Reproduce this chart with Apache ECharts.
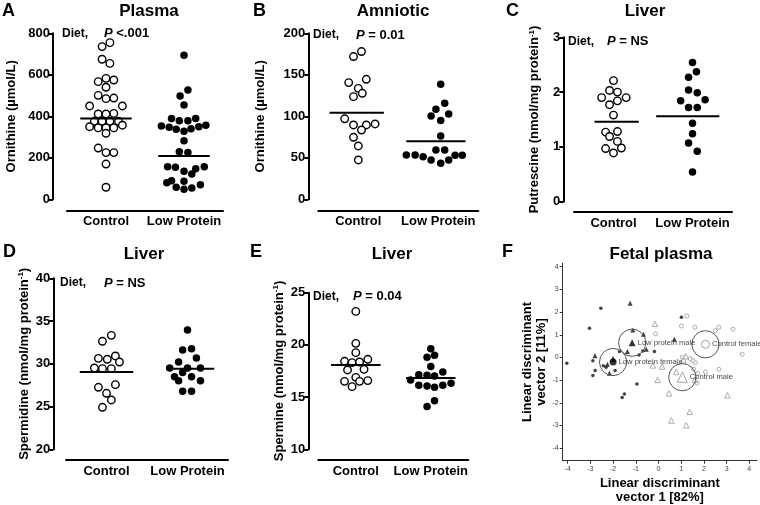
<!DOCTYPE html>
<html><head><meta charset="utf-8">
<script src="https://cdn.jsdelivr.net/npm/echarts@6/dist/echarts.min.js"></script>
<style>html,body{margin:0;padding:0;background:#fff}#c{width:760px;height:505px}</style>
</head><body><div id="c"></div>
<script>
// ---------- data ----------
const groups = ['Control', 'Low Protein'];

// A  Plasma ornithine (µmol/L)
const plasmaControl = [755, 736, 675, 655, 583, 567, 575, 540, 501, 485, 488, 450, 450, 411, 411, 414, 376, 376, 376, 376, 350, 344, 344, 344, 357, 318, 247, 225, 225, 170, 58];
const plasmaControlJitter = [0.05, -0.05, -0.05, 0.05, 0, -0.10, 0.10, 0, -0.10, 0, 0.10, -0.21, 0.21, -0.10, 0, 0.10, -0.15, -0.05, 0.05, 0.16, -0.21, -0.10, 0, 0.10, 0.21, 0, -0.10, 0, 0.10, 0, 0];
const plasmaLow = [694, 527, 498, 454, 390, 379, 379, 390, 353, 347, 337, 328, 340, 350, 357, 282, 229, 225, 157, 154, 135, 122, 147, 157, 80, 90, 58, 87, 48, 54, 70];
const plasmaLowJitter = [0, 0.05, -0.05, 0, -0.16, -0.06, 0.05, 0.15, -0.29, -0.19, -0.10, 0, 0.09, 0.19, 0.28, 0, -0.06, 0.05, -0.21, -0.11, 0, 0.10, 0.15, 0.26, -0.22, -0.16, -0.10, 0, 0, 0.10, 0.21];
const plasmaMeans = [390, 209];

// B  Amniotic ornithine (µmol/L)
const amnioticControl = [178, 172, 140.6, 144.6, 133.7, 127.7, 123.7, 97, 89.6, 89.6, 90.8, 83.5, 74.7, 64.3, 47.4];
const amnioticControlJitter = [0.04, -0.06, -0.12, 0.10, 0, 0.05, -0.06, -0.17, -0.06, 0.10, 0.21, 0.04, -0.06, 0, 0];
const amnioticLow = [138.6, 115.7, 108.4, 100.4, 102.8, 94.8, 76.3, 53.4, 53.4, 51.4, 47.4, 59.4, 59.4, 43.4, 47.4, 53, 53];
const amnioticLowJitter = [0.03, 0.08, -0.03, -0.09, 0.13, 0.03, 0.03, -0.40, -0.29, -0.19, -0.09, -0.03, 0.08, 0.03, 0.13, 0.21, 0.30];
const amnioticMeans = [104.4, 69.9];

// C  Liver putrescine
const putrescineControl = [2.21, 2.03, 2.00, 1.90, 1.90, 1.84, 1.77, 1.58, 1.27, 1.28, 1.19, 1.10, 0.97, 0.98, 0.89];
const putrescineControlJitter = [0, -0.05, 0.05, -0.15, 0.16, 0.05, -0.05, 0, -0.10, 0.05, -0.05, 0.05, -0.10, 0.10, 0];
const putrescineLow = [2.54, 2.37, 2.27, 2.04, 1.99, 1.84, 1.86, 1.72, 1.72, 1.43, 1.24, 1.07, 0.92, 0.54];
const putrescineLowJitter = [0, 0.05, -0.05, -0.05, 0.06, -0.15, 0.16, -0.05, 0.06, 0, 0, -0.05, 0.06, 0];
const putrescineMeans = [1.46, 1.56];

// D  Liver spermidine
const spermidineControl = [33.33, 32.63, 30.64, 30.53, 30.92, 30.21, 29.51, 29.43, 29.43, 27.25, 27.56, 26.55, 25.77, 24.91];
const spermidineControlJitter = [0.06, -0.05, -0.10, 0.01, 0.11, 0.16, -0.15, -0.05, 0.06, -0.10, 0.11, 0, 0.06, -0.05];
const spermidineLow = [33.96, 31.62, 31.77, 30.21, 30.68, 29.51, 29.51, 29.51, 28.97, 28.50, 28.50, 28.03, 28.03, 26.78, 26.78];
const spermidineLowJitter = [0, -0.06, 0.05, -0.11, 0.11, -0.22, 0, 0.16, -0.06, -0.16, 0.05, -0.11, 0.16, -0.06, 0.05];
const spermidineMeans = [29.04, 29.43];

// E  Liver spermine
const spermineControl = [23.21, 20.15, 19.26, 18.43, 18.30, 18.36, 18.62, 17.60, 17.66, 16.89, 16.51, 16.51, 16.58, 16.0];
const spermineControlJitter = [0, 0, 0, -0.15, -0.05, 0.05, 0.16, -0.11, 0.11, 0, -0.15, 0.05, 0.16, -0.05];
const spermineLow = [19.64, 18.81, 19.0, 17.92, 17.15, 17.09, 17.02, 17.40, 16.64, 16.13, 16.06, 15.94, 16.13, 16.32, 14.66, 14.09];
const spermineLowJitter = [0, -0.05, 0.05, 0, -0.16, -0.05, 0.05, 0.16, -0.27, -0.16, -0.05, 0.05, 0.16, 0.27, 0.05, -0.05];
const spermineMeans = [18.07, 16.83];

// F  Fetal plasma linear discriminant scores [vector 1, vector 2]
const lowProteinFemale = [[-4.04, -0.26], [-3.04, 1.29], [-2.54, 2.17], [-2.89, -0.14], [-2.79, -0.58], [-2.89, -0.80], [-2.43, -0.37], [-2.31, -0.43], [-1.91, -0.58], [-1.72, 0.26], [-0.95, -1.17], [-1.50, -1.61], [-1.60, -1.77], [-0.86, 0.11], [-0.69, 0.29], [-0.18, 0.26], [1.01, 1.77]];
const lowProteinMale = [[-1.25, 2.39], [-1.13, 1.21], [-0.66, 1.02], [-1.37, 0.26], [-2.80, 0.07], [-2.16, -0.70], [-0.54, 0.36], [0.70, 0.80], [-2.25, -0.30]];
const controlFemale = [[1.25, 1.83], [1.01, 1.39], [1.60, 1.33], [2.66, 1.33], [2.51, 1.18], [3.28, 1.24], [-0.13, 1.04], [3.69, 0.14], [1.05, 0.01], [1.52, -0.14], [1.63, -0.23], [1.55, -0.52], [1.73, -0.70], [2.07, -0.64], [2.66, -0.52], [1.70, -1.13], [1.40, -0.05]];
const controlMale = [[-0.16, 1.48], [1.10, -0.11], [0.16, -0.40], [0.78, -0.64], [-0.04, -0.99], [1.60, -0.99], [0.46, -1.58], [3.04, -1.67], [1.37, -2.40], [0.57, -2.78], [1.22, -2.99], [-0.25, -0.35], [1.20, 0.05]];
const centroidNames = ['Low protein male', 'Low protein female', 'Control female', 'Control male'];
const centroids = [[-1.16, 0.65], [-2.00, -0.20], [2.07, 0.58], [1.05, -0.87]];

// ---------- layout / style ----------
const FONT = '"Liberation Sans", Arial, Helvetica, sans-serif';
const CIRCLE_R = 0.6;
const sup = {fontSize: 8, fontWeight: 'bold', fontFamily: FONT, color: '#000', verticalAlign: 'top', lineHeight: 10};
const nrm = {fontSize: 13, fontWeight: 'bold', fontFamily: FONT, color: '#000', lineHeight: 15};

const panels = [
  {grid: {left: 67, top: 33.3, width: 156, height: 166}, yOff: 14, xOff: 11, min: 0, max: 800, interval: 200,
   name: 'Ornithine (µmol/L)', gap: 34,
   ctrl: plasmaControl, ctrlJ: plasmaControlJitter, low: plasmaLow, lowJ: plasmaLowJitter, means: plasmaMeans,
   span: [[-0.33, 0.33], [-0.33, 0.33]]},
  {grid: {left: 318.3, top: 33.3, width: 160, height: 166}, yOff: 10, xOff: 11, min: 0, max: 200, interval: 50,
   name: 'Ornithine (µmol/L)', gap: 40,
   ctrl: amnioticControl, ctrlJ: amnioticControlJitter, low: amnioticLow, lowJ: amnioticLowJitter, means: amnioticMeans,
   span: [[-0.36, 0.32], [-0.40, 0.34]]},
  {grid: {left: 574, top: 37.3, width: 158, height: 164.4}, yOff: 10.7, xOff: 10, min: 0, max: 3, interval: 1,
   name: '{n|Putrescine (nmol/mg protein}{s|-1}{n|)}', gap: 21,
   ctrl: putrescineControl, ctrlJ: putrescineControlJitter, low: putrescineLow, lowJ: putrescineLowJitter, means: putrescineMeans,
   span: [[-0.24, 0.32], [-0.46, 0.34]]},
  {grid: {left: 66, top: 278.3, width: 162, height: 171}, yOff: 12.7, xOff: 10.7, min: 20, max: 40, interval: 5,
   name: '{n|Spermidine (nmol/mg protein}{s|-1}{n|)}', gap: 20,
   ctrl: spermidineControl, ctrlJ: spermidineControlJitter, low: spermidineLow, lowJ: spermidineLowJitter, means: spermidineMeans,
   span: [[-0.33, 0.33], [-0.24, 0.33]]},
  {grid: {left: 318.3, top: 292.7, width: 150, height: 156.6}, yOff: 10, xOff: 10.7, min: 10, max: 25, interval: 5,
   name: '{n|Spermine (nmol/mg protein}{s|-1}{n|)}', gap: 20,
   ctrl: spermineControl, ctrlJ: spermineControlJitter, low: spermineLow, lowJ: spermineLowJitter, means: spermineMeans,
   span: [[-0.33, 0.33], [-0.33, 0.33]]}
];

const grids = [], xAxes = [], yAxes = [], series = [];
const black = '#000';

panels.forEach((p, i) => {
  grids.push(Object.assign({outerBoundsMode: 'none', containLabel: false}, p.grid));
  xAxes.push({type: 'category', gridIndex: i, data: groups, position: 'bottom', offset: p.xOff,
    axisLine: {onZero: false, lineStyle: {color: black, width: 2}},
    axisTick: {alignWithLabel: true, length: 4, lineStyle: {color: black, width: 2}},
    axisLabel: {interval: 0, color: black, fontSize: 13, fontWeight: 'bold', fontFamily: FONT, margin: 5}});
  xAxes.push({type: 'value', gridIndex: i, min: -0.5, max: 1.5, show: false, position: 'top'});
  yAxes.push({type: 'value', gridIndex: i, min: p.min, max: p.max, interval: p.interval, offset: p.yOff,
    position: 'left',
    axisLine: {show: true, onZero: false, lineStyle: {color: black, width: 2}},
    axisTick: {show: true, length: 4, lineStyle: {color: black, width: 2}},
    splitLine: {show: false},
    axisLabel: {color: black, fontSize: 13, fontWeight: 'bold', fontFamily: FONT, margin: 3},
    name: p.name, nameLocation: 'middle', nameGap: p.gap, nameRotate: 90,
    nameTextStyle: Object.assign({}, nrm, {rich: {n: nrm, s: sup}})});
  const xi = 2 * i + 1;
  series.push({type: 'scatter', xAxisIndex: xi, yAxisIndex: i, symbol: 'circle', symbolSize: 7.5,
    itemStyle: {color: '#fff', borderColor: black, borderWidth: 1.4, opacity: 1},
    data: p.ctrl.map((v, k) => [0 + p.ctrlJ[k], v])});
  series.push({type: 'scatter', xAxisIndex: xi, yAxisIndex: i, symbol: 'circle', symbolSize: 7.5,
    itemStyle: {color: black, opacity: 1},
    data: p.low.map((v, k) => [1 + p.lowJ[k], v])});
  [0, 1].forEach(g => {
    series.push({type: 'line', xAxisIndex: xi, yAxisIndex: i, symbol: 'none', silent: true,
      lineStyle: {color: black, width: 2}, z: 3,
      data: [[g + p.span[g][0], p.means[g]], [g + p.span[g][1], p.means[g]]]});
  });
});

// Panel F
const fi = panels.length;
grids.push({outerBoundsMode: 'none', containLabel: false, left: 562.7, top: 263.3, width: 194.3, height: 197.4});
const fAxisCommon = {
  axisLine: {show: true, onZero: false, lineStyle: {color: '#333', width: 1}},
  axisTick: {show: true, length: 3, lineStyle: {color: '#333', width: 1}},
  splitLine: {show: false},
  nameLocation: 'middle', nameTextStyle: {fontSize: 13, fontWeight: 'bold', fontFamily: FONT, color: black, lineHeight: 14}
};
xAxes.push(Object.assign({type: 'value', gridIndex: fi, min: -4.22, max: 4.34, splitNumber: 8, position: 'bottom',
  axisLabel: {fontSize: 7, color: '#444', fontFamily: FONT, margin: 5, showMinLabel: false, showMaxLabel: false},
  name: 'Linear discriminant\nvector 1 [82%]', nameGap: 16}, fAxisCommon));
yAxes.push(Object.assign({type: 'value', gridIndex: fi, min: -4.55, max: 4.15, splitNumber: 8, position: 'left',
  axisLabel: {fontSize: 7, color: '#444', fontFamily: FONT, margin: 4, showMinLabel: false, showMaxLabel: false},
  name: 'Linear discriminant\nvector 2 [11%]', nameGap: 12, nameRotate: 90}, fAxisCommon));
const fx = xAxes.length - 1, fy = yAxes.length - 1;
series.push({type: 'scatter', xAxisIndex: fx, yAxisIndex: fy, symbol: 'circle', symbolSize: 3.5,
  itemStyle: {color: '#111'}, data: lowProteinFemale});
series.push({type: 'scatter', xAxisIndex: fx, yAxisIndex: fy, symbol: 'triangle', symbolSize: 5,
  itemStyle: {color: '#111'}, data: lowProteinMale});
series.push({type: 'scatter', xAxisIndex: fx, yAxisIndex: fy, symbol: 'circle', symbolSize: 4,
  itemStyle: {color: '#fff', borderColor: '#9a9a9a', borderWidth: 1}, data: controlFemale});
series.push({type: 'scatter', xAxisIndex: fx, yAxisIndex: fy, symbol: 'triangle', symbolSize: 5.5,
  itemStyle: {color: '#fff', borderColor: '#9a9a9a', borderWidth: 1}, data: controlMale});
// confidence circles
series.push({type: 'custom', xAxisIndex: fx, yAxisIndex: fy, silent: true, z: 4,
  data: centroids,
  renderItem: function (params, api) {
    const c = api.coord([api.value(0), api.value(1)]);
    const s = api.size([CIRCLE_R, CIRCLE_R]);
    return {type: 'circle', shape: {cx: c[0], cy: c[1], r: s[0]}, style: {fill: 'none', stroke: '#555', lineWidth: 1}};
  }});
// centroid markers with labels
const centroidSymbols = ['triangle', 'circle', 'circle', 'triangle'];
const centroidStyles = [
  {color: '#000'}, {color: '#000'},
  {color: '#fff', borderColor: '#888', borderWidth: 1}, {color: '#fff', borderColor: '#888', borderWidth: 1}
];
const centroidSizes = [7, 7, 8, 10];
series.push({type: 'scatter', xAxisIndex: fx, yAxisIndex: fy, z: 5,
  data: centroids.map((c, k) => ({name: centroidNames[k], value: c, symbol: centroidSymbols[k],
    symbolSize: centroidSizes[k], itemStyle: centroidStyles[k]})),
  label: {show: true, position: 'right', distance: 2, formatter: '{b}', fontSize: 7.6, fontFamily: FONT, color: '#111'}});
series.push({type: 'scatter', xAxisIndex: fx, yAxisIndex: fy, z: 5, symbol: 'triangle', symbolSize: 6,
  symbolOffset: [0, -3], itemStyle: {color: '#000'}, data: [centroids[1]]});

// ---------- texts ----------
function txt(x, y, text, size, align, extra) {
  return Object.assign({type: 'text', x: x, y: y, silent: true, style: {text: text,
    font: 'bold ' + size + 'px ' + FONT, fill: '#000', align: align, textAlign: align,
    verticalAlign: 'middle', textVerticalAlign: 'middle'}}, extra || {});
}
function pText(x, y, rest) {
  return {type: 'text', x: x, y: y, silent: true, style: {
    text: '{i|P}{b| ' + rest + '}', verticalAlign: 'middle', textVerticalAlign: 'middle', align: 'left',
    rich: {i: {font: 'italic bold 13px ' + FONT, fill: '#000', fontStyle: 'italic', fontWeight: 'bold', fontSize: 13, fontFamily: FONT},
           b: {font: 'bold 13px ' + FONT, fill: '#000', fontWeight: 'bold', fontSize: 13, fontFamily: FONT}}}};
}
const graphics = [
  txt(2, 11, 'A', 18, 'left'), txt(253, 11, 'B', 18, 'left'), txt(506, 11, 'C', 18, 'left'),
  txt(3, 252, 'D', 18, 'left'), txt(250, 252, 'E', 18, 'left'), txt(502, 252, 'F', 18, 'left'),
  txt(149, 11, 'Plasma', 17, 'center'), txt(393, 11, 'Amniotic', 17, 'center'), txt(645, 11, 'Liver', 17, 'center'),
  txt(144, 254, 'Liver', 17, 'center'), txt(392, 254, 'Liver', 17, 'center'), txt(661, 254, 'Fetal plasma', 17, 'center'),
  txt(62, 33.5, 'Diet,', 12, 'left'), pText(104, 33.5, '<.001'),
  txt(313, 35, 'Diet,', 12, 'left'), pText(356, 35, '= 0.01'),
  txt(568, 41.7, 'Diet,', 12, 'left'), pText(607, 41.7, '= NS'),
  txt(60, 283, 'Diet,', 12, 'left'), pText(104, 283, '= NS'),
  txt(313, 296.7, 'Diet,', 12, 'left'), pText(353, 296.7, '= 0.04')
];

const chart = echarts.init(document.getElementById('c'), null, {renderer: 'canvas', width: 760, height: 505});
chart.setOption({
  backgroundColor: '#fff',
  animation: false,
  grid: grids,
  xAxis: xAxes,
  yAxis: yAxes,
  series: series,
  graphic: graphics
});
</script>
</body></html>
